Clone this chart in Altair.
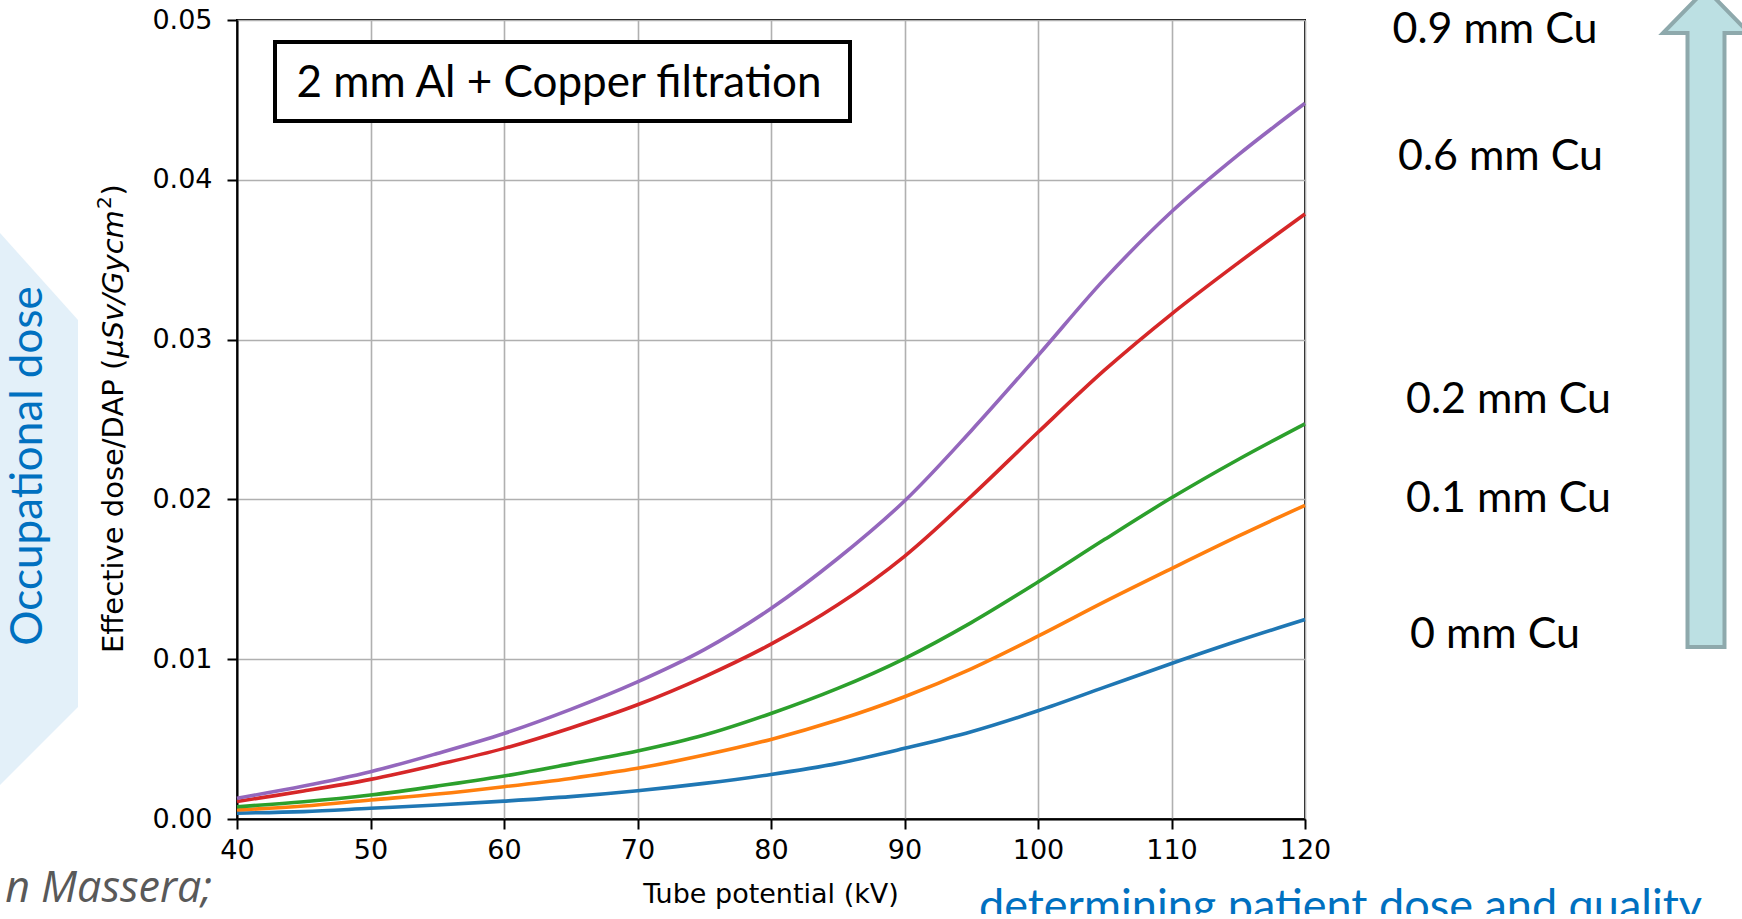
import altair as alt
import pandas as pd

# ---------------- data ----------------
kv = [40, 45, 50, 55, 60, 65, 70, 75, 80, 85, 90, 95, 100, 105, 110, 115, 120]
cu_0_0 = [0.00037, 0.00046, 0.00067, 0.00088, 0.00112, 0.00140, 0.00177, 0.00223, 0.00279,
          0.00348, 0.00442, 0.00546, 0.00677, 0.00825, 0.00973, 0.01115, 0.01248]
cu_0_1 = [0.00056, 0.00081, 0.00119, 0.00156, 0.00202, 0.00254, 0.00317, 0.00400, 0.00498,
          0.00619, 0.00765, 0.00940, 0.01144, 0.01360, 0.01567, 0.01770, 0.01963]
cu_0_2 = [0.00077, 0.00108, 0.00150, 0.00206, 0.00269, 0.00345, 0.00425, 0.00525, 0.00660,
          0.00817, 0.01004, 0.01229, 0.01483, 0.01750, 0.02010, 0.02250, 0.02473]
cu_0_6 = [0.00110, 0.00175, 0.00248, 0.00340, 0.00442, 0.00570, 0.00715, 0.00890, 0.01094,
          0.01340, 0.01644, 0.02020, 0.02420, 0.02810, 0.03160, 0.03480, 0.03786]
cu_0_9 = [0.00130, 0.00206, 0.00296, 0.00410, 0.00535, 0.00686, 0.00858, 0.01060, 0.01317,
          0.01630, 0.01990, 0.02430, 0.02900, 0.03380, 0.03800, 0.04156, 0.04479]

series_names = ["0 mm Cu", "0.1 mm Cu", "0.2 mm Cu", "0.6 mm Cu", "0.9 mm Cu"]
series_values = [cu_0_0, cu_0_1, cu_0_2, cu_0_6, cu_0_9]
series_colors = ["#1f77b4", "#ff7f0e", "#2ca02c", "#d62728", "#9467bd"]

x_ticks = [40, 50, 60, 70, 80, 90, 100, 110, 120]
y_ticks = [0.0, 0.01, 0.02, 0.03, 0.04, 0.05]

box_text = "2 mm Al + Copper filtration"
x_title = "Tube potential (kV)"
y_title_parts = ["Effective dose/DAP (", "\u03bcSv/Gycm", "2", ")"]
side_title = "Occupational dose"
footer_left = "n Massera;"
footer_right = "determining patient dose and quality"

# ---------------- layout ----------------
W, H = 1068, 799
PL, PT = 237, 20
TOTAL_W, TOTAL_H = 1742, 914

rows = []
for name, vals in zip(series_names, series_values):
    for k, v in zip(kv, vals):
        rows.append({"kV": k, "dose": v, "series": name})
df = pd.DataFrame(rows)


def txt(text, x, y, size, font="Lato", color="#000000", align="center",
        angle=0, style="normal", baseline="alphabetic"):
    return alt.Chart(pd.DataFrame({"t": [text]})).mark_text(
        align=align, baseline=baseline, font=font, fontSize=size, color=color,
        angle=angle, fontStyle=style
    ).encode(x=alt.value(x), y=alt.value(y), text="t:N")


lines = alt.Chart(df).mark_line(strokeWidth=3.6, interpolate="catmull-rom").encode(
    x=alt.X("kV:Q", scale=alt.Scale(domain=[40, 120], nice=False, zero=False),
            axis=alt.Axis(values=x_ticks, format="d", title=None, labelPadding=8,
                          labelFlush=False)),
    y=alt.Y("dose:Q", scale=alt.Scale(domain=[0, 0.05], nice=False),
            axis=alt.Axis(values=y_ticks, format=".2f", title=None, labelPadding=15,
                          labelFlush=False)),
    color=alt.Color("series:N", scale=alt.Scale(domain=series_names, range=series_colors),
                    legend=None),
)

# annotation box inside the plot
box = alt.Chart(pd.DataFrame({"a": [0]})).mark_rect(
    fill="white", stroke="black", strokeWidth=4
).encode(x=alt.value(38), x2=alt.value(613), y=alt.value(22), y2=alt.value(101))
box_label = txt(box_text, 322, 77, 44)

# pale background shape on the left (slide decoration)
bg_path = "M-0.1413,-1L0.1413,-0.6848L0.1413,0.7174L-0.1413,1Z"
bg = alt.Chart(pd.DataFrame({"a": [0]})).mark_point(
    shape=bg_path, filled=True, fill="#E3F0F9", strokeWidth=0, opacity=1, size=552 * 552
).encode(x=alt.value(39 - PL), y=alt.value(509 - PT))

# arrow on the right
arrow_path = ("M0,-1L0.1307,-0.8663L0.0562,-0.8663L0.0562,1L-0.0562,1L-0.0562,-0.8663"
              "L-0.1307,-0.8663Z")
arrow = alt.Chart(pd.DataFrame({"a": [0]})).mark_point(
    shape=arrow_path, filled=True, fill="#BCE0E3", stroke="#8EA9AC", strokeWidth=4,
    opacity=1, size=658 * 658
).encode(x=alt.value(1706 - PL), y=alt.value(318 - PT))

# filtration labels on the right
label_x = [1258, 1271.5, 1271.5, 1263.5, 1258]
label_y = [628, 492, 393, 150, 23]
labels = [txt(n, lx, ly, 43) for n, lx, ly in zip(series_names, label_x, label_y)]

# axis titles
xt = txt(x_title, 534, 883, 27, font="DejaVu Sans")
yb = 653 - PT
fs = 29
w1 = 10.181 * fs
w2 = 5.091 * fs
w3 = 0.636 * 20
yt = [
    txt(y_title_parts[0], -114, yb, fs, font="DejaVu Sans", align="left", angle=270),
    txt(y_title_parts[1], -114, yb - w1, fs, font="DejaVu Sans", align="left", angle=270,
        style="italic"),
    txt(y_title_parts[2], -126, yb - w1 - w2 - 1, 20, font="DejaVu Sans", align="left",
        angle=270),
    txt(y_title_parts[3], -114, yb - w1 - w2 - w3 - 2, fs, font="DejaVu Sans", align="left",
        angle=270),
]

side = txt(side_title, 42 - PL, 466 - PT, 44, color="#0070C0", angle=270)
foot_l = txt(footer_left, 212 - PL, 902 - PT, 43, font="Open Sans", color="#595959",
             align="right", style="italic")
foot_r = txt(footer_right, 979 - PL, 921 - PT, 45, color="#0070C0", align="left")

chart = alt.layer(
    bg, side, lines, box, box_label, arrow, *labels, xt, *yt, foot_l, foot_r
).properties(
    width=W, height=H,
    padding={"left": PL, "top": PT, "right": TOTAL_W - PL - W, "bottom": TOTAL_H - PT - H},
    autosize=alt.AutoSizeParams(type="none"),
    background="white",
).configure_view(
    stroke="black", strokeWidth=2
).configure_axis(
    labelFont="DejaVu Sans", labelFontSize=27, labelColor="#000000",
    tickColor="#000000", tickSize=10, tickWidth=2,
    domainColor="#000000", domainWidth=2,
    grid=True, gridColor="#b0b0b0", gridWidth=1.6,
)

chart.save("out.html", embed_options={"renderer": "svg", "actions": False})
